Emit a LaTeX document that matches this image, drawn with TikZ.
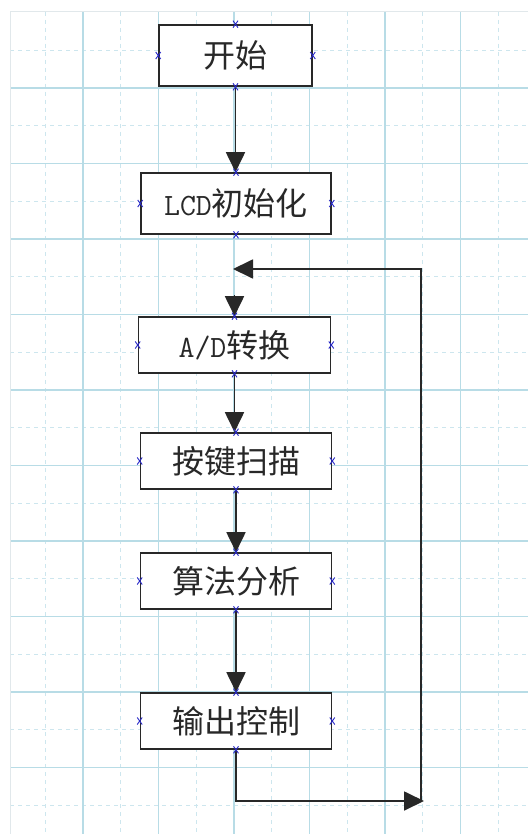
\documentclass[tikz,border=0pt]{standalone}
\usepackage{fontspec}
\newfontfamily\cjk{Noto Sans CJK SC}
\newfontfamily\lmmono{Latin Modern Mono}
\usetikzlibrary{arrows.meta,calc}
\definecolor{gridsolid}{RGB}{184,220,230}
\definecolor{griddash}{RGB}{205,230,238}
\definecolor{gridborder}{RGB}{225,232,235}
\definecolor{ink}{RGB}{40,40,40}
\definecolor{markblue}{RGB}{40,40,200}
\tikzset{
  gsolid/.style={draw=gridsolid, line width=1.3pt},
  gdash/.style={draw=griddash, line width=1pt, dash pattern=on 4pt off 4pt},
  box/.style={draw=ink, line width=1.6pt, fill=white, inner sep=0pt, font=\cjk\fontsize{32}{34}\selectfont, text=ink},
  arr/.style={draw=ink, line width=1.8pt, -{Triangle[width=19pt,length=20pt]}},
  markx/.style={draw=markblue, line width=0.9pt}
}
\newcommand\lat[1]{{\lmmono\fontsize{31}{34}\selectfont #1}}
\begin{document}
\begin{tikzpicture}[x=1pt,y=-1pt]
\useasboundingbox (0,0) rectangle (528,834);
\fill[white] (0,0) rectangle (528,834);
% grid
\foreach \k in {0,...,6} \draw[gdash] ({45.25+75.5*\k},12) -- ({45.25+75.5*\k},834);
\foreach \k in {0,...,10} \draw[gdash] (10,{50.25+75.5*\k}) -- (528,{50.25+75.5*\k});
\foreach \k in {0,...,5} \draw[gsolid] ({83+75.5*\k},12) -- ({83+75.5*\k},834);
\foreach \k in {0,...,9} \draw[gsolid] (10,{88+75.5*\k}) -- (528,{88+75.5*\k});
\draw[gridborder, line width=1pt] (10,834) -- (10,12) -- (528,12);
% boxes
\node[box, minimum width=153pt, minimum height=61pt] (start) at (235.5,55.5) {开始};
\node[box, minimum width=190pt, minimum height=61pt] (lcd) at (236,203.5) {\lat{LCD}初始化};
\node[box, minimum width=192pt, minimum height=56pt] (ad) at (234.5,345) {\lat{A/D}转换};
\node[box, minimum width=191pt, minimum height=56pt] (key) at (236,461) {按键扫描};
\node[box, minimum width=191pt, minimum height=56pt] (alg) at (236,581) {算法分析};
\node[box, minimum width=191pt, minimum height=56pt] (out) at (236,721) {输出控制};
% connectors
\coordinate (c1) at (424,801);
\coordinate (c2) at (233,269);
\coordinate (c3) at (421,801);
\coordinate (adtop) at ($(ad.north)+(0,-21)$);
\draw[arr] (start.south) -- (start.south |- lcd.north);
\draw[arr] (adtop) -- (ad.north);
\draw[arr] (ad.south) -- (ad.south |- key.north);
\draw[arr] (key.south) -- (alg.north);
\draw[arr] (alg.south) -- (out.north);
\draw[arr] (out.south) |- (c1);
\draw[arr] (c3) |- (c2);
% connection markers
\foreach \b in {start,lcd,ad,key,alg,out}
  \foreach \a in {north,south,east,west}
    \draw[markx] ($(\b.\a)+(-2.5,-3.5)$) -- ++(5,7) ($(\b.\a)+(-2.5,3.5)$) -- ++(5,-7);
\end{tikzpicture}
\end{document}
